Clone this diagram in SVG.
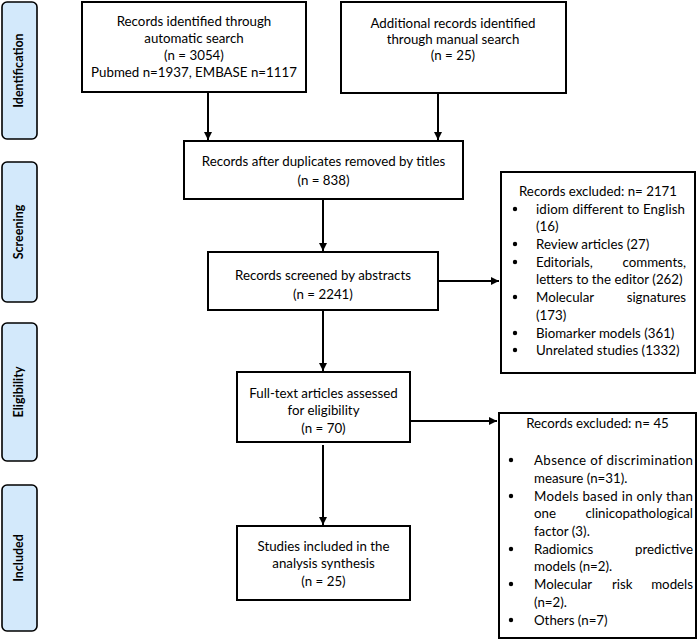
<svg xmlns="http://www.w3.org/2000/svg" width="697" height="640" viewBox="0 0 697 640">
<defs>
<style>
.box{fill:#fff;stroke:#000;stroke-width:2}
.side{fill:#d3e9fb;stroke:#000;stroke-width:1.6}
.t{font-family:Lato,"Liberation Sans",sans-serif;font-size:13.3px;fill:#000}
.c{text-anchor:middle}
.e{text-anchor:end}
.s{font-family:Lato,"Liberation Sans",sans-serif;font-size:12.5px;font-weight:bold;text-anchor:middle;fill:#000}
.ln{stroke:#000;stroke-width:2;fill:none}
</style>
<marker id="ah" markerWidth="8" markerHeight="8" refX="8" refY="4" orient="auto" markerUnits="userSpaceOnUse">
<path d="M0,0 L8,4 L0,8 Z" fill="#000"/>
</marker>
</defs>
<rect width="697" height="640" fill="#fff"/>

<g id="stage-identification">
<rect class="side" x="2" y="2" width="35" height="137" rx="5"/>
<text class="s" transform="translate(23,70.5) rotate(-90)">Identification</text>
</g>
<g id="stage-screening">
<rect class="side" x="2" y="162" width="35" height="140" rx="5"/>
<text class="s" transform="translate(23,232) rotate(-90)">Screening</text>
</g>
<g id="stage-eligibility">
<rect class="side" x="2" y="323" width="35" height="138" rx="5"/>
<text class="s" transform="translate(23,392) rotate(-90)">Eligibility</text>
</g>
<g id="stage-included">
<rect class="side" x="2" y="485" width="35" height="146" rx="5"/>
<text class="s" transform="translate(23,558) rotate(-90)">Included</text>
</g>

<g id="connectors">
<line class="ln" x1="208" y1="92" x2="208" y2="140" marker-end="url(#ah)"/>
<line class="ln" x1="438" y1="93" x2="438" y2="140" marker-end="url(#ah)"/>
<line class="ln" x1="323" y1="199" x2="323" y2="251" marker-end="url(#ah)"/>
<line class="ln" x1="438" y1="281" x2="499" y2="281" marker-end="url(#ah)"/>
<line class="ln" x1="323" y1="310" x2="323" y2="371" marker-end="url(#ah)"/>
<line class="ln" x1="410" y1="421" x2="497" y2="421" marker-end="url(#ah)"/>
<line class="ln" x1="323" y1="445" x2="323" y2="525" marker-end="url(#ah)"/>
</g>

<g id="n-auto">
<rect class="box" x="82" y="2" width="224" height="90"/>
<text class="t c" x="194" y="26">Records identified through</text>
<text class="t c" x="194" y="43">automatic search</text>
<text class="t c" x="194" y="60">(n = 3054)</text>
<text class="t c" x="194" y="77">Pubmed n=1937, EMBASE n=1117</text>
</g>
<g id="n-manual">
<rect class="box" x="341" y="2" width="225" height="91"/>
<text class="t c" x="453" y="28">Additional records identified</text>
<text class="t c" x="453" y="44">through manual search</text>
<text class="t c" x="453" y="60">(n = 25)</text>
</g>
<g id="n-dedup">
<rect class="box" x="184" y="141" width="279" height="58"/>
<text class="t c" x="323.5" y="166">Records after duplicates removed by titles</text>
<text class="t c" x="323.5" y="185">(n = 838)</text>
</g>
<g id="n-screened">
<rect class="box" x="208" y="252" width="230" height="58"/>
<text class="t c" x="323" y="280">Records screened by abstracts</text>
<text class="t c" x="323" y="299">(n = 2241)</text>
</g>
<g id="n-excl1">
<rect class="box" x="501" y="172" width="194" height="201"/>
<text class="t c" x="598" y="196">Records excluded: n= 2171</text>
<g fill="#000">
<circle cx="515" cy="209" r="2.2"/>
<circle cx="515" cy="244" r="2.2"/>
<circle cx="515" cy="262" r="2.2"/>
<circle cx="515" cy="297" r="2.2"/>
<circle cx="515" cy="333" r="2.2"/>
<circle cx="515" cy="350" r="2.2"/>
</g>
<text class="t" x="536" y="214" textLength="149" lengthAdjust="spacing">idiom different to English</text>
<text class="t" x="536" y="231">(16)</text>
<text class="t" x="536" y="249">Review articles (27)</text>
<text class="t" x="536" y="267">Editorials,</text>
<text class="t e" x="686" y="267">comments,</text>
<text class="t" x="536" y="284">letters to the editor (262)</text>
<text class="t" x="536" y="302">Molecular</text>
<text class="t e" x="686" y="302">signatures</text>
<text class="t" x="536" y="320">(173)</text>
<text class="t" x="536" y="338">Biomarker models (361)</text>
<text class="t" x="536" y="355">Unrelated studies (1332)</text>
</g>
<g id="n-fulltext">
<rect class="box" x="237" y="372" width="173" height="70"/>
<text class="t c" x="323.5" y="398">Full-text articles assessed</text>
<text class="t c" x="323.5" y="415">for eligibility</text>
<text class="t c" x="323.5" y="433">(n = 70)</text>
</g>
<g id="n-excl2">
<rect class="box" x="499" y="413" width="197" height="225"/>
<text class="t c" x="597.5" y="428">Records excluded: n= 45</text>
<g fill="#000">
<circle cx="511" cy="460" r="2.2"/>
<circle cx="511" cy="496" r="2.2"/>
<circle cx="511" cy="549" r="2.2"/>
<circle cx="511" cy="584" r="2.2"/>
<circle cx="511" cy="620" r="2.2"/>
</g>
<text class="t" x="534" y="465" textLength="159" lengthAdjust="spacing">Absence of discrimination</text>
<text class="t" x="534" y="483">measure (n=31).</text>
<text class="t" x="534" y="501" textLength="159" lengthAdjust="spacing">Models based in only than</text>
<text class="t" x="534" y="518">one</text>
<text class="t e" x="693" y="518">clinicopathological</text>
<text class="t" x="534" y="536">factor (3).</text>
<text class="t" x="534" y="554">Radiomics</text>
<text class="t e" x="693" y="554">predictive</text>
<text class="t" x="534" y="571">models (n=2).</text>
<text class="t" x="534" y="589">Molecular</text>
<text class="t" x="612" y="589">risk</text>
<text class="t e" x="693" y="589">models</text>
<text class="t" x="534" y="607">(n=2).</text>
<text class="t" x="534" y="625">Others (n=7)</text>
</g>
<g id="n-included">
<rect class="box" x="237" y="526" width="173" height="74"/>
<text class="t c" x="323.5" y="551">Studies included in the</text>
<text class="t c" x="323.5" y="568">analysis synthesis</text>
<text class="t c" x="323.5" y="586">(n = 25)</text>
</g>
</svg>
